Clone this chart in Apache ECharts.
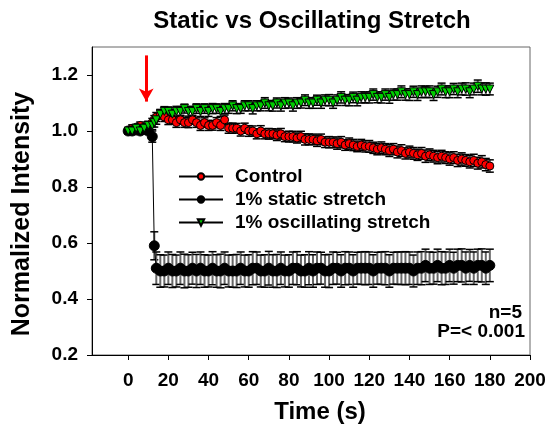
<!DOCTYPE html>
<html>
<head>
  <meta charset="utf-8" />
  <title>Static vs Oscillating Stretch</title>
  <script src="https://cdn.jsdelivr.net/npm/echarts@6/dist/echarts.min.js"></script>
  <style>
    html, body { margin: 0; padding: 0; background: #fff; }
  </style>
</head>
<body>
<div id="main" style="width: 546px;height:429px;"></div>
<script type="text/javascript">
  // time points (s)
  var time = [0, 2, 4, 6, 8, 10, 12, 13,
    14, 16, 18, 20, 22, 24, 26, 28, 30, 32, 34, 36, 38, 40, 42, 44, 46, 48, 50, 52, 54, 56, 58, 60,
    62, 64, 66, 68, 70, 72, 74, 76, 78, 80, 82, 84, 86, 88, 90, 92, 94, 96, 98, 100, 102, 104, 106, 108,
    110, 112, 114, 116, 118, 120, 122, 124, 126, 128, 130, 132, 134, 136, 138, 140, 142, 144, 146, 148,
    150, 152, 154, 156, 158, 160, 162, 164, 166, 168, 170, 172, 174, 176, 178, 180];

  var control = [
    1.00, 1.01, 1.00, 1.02, 1.01, 1.02, 1.03, 1.04, 1.05, 1.06,
    1.05, 1.04, 1.04, 1.03, 1.04, 1.03, 1.03, 1.04, 1.03, 1.02,
    1.03, 1.02, 1.02, 1.03, 1.02, 1.04, 1.01, 1.01, 1.01, 1.00,
    1.01, 1.00, 1.00, 0.99, 1.00, 0.99, 0.99, 0.99, 0.985, 0.99,
    0.98, 0.98, 0.98, 0.975, 0.98, 0.97, 0.97, 0.97, 0.965, 0.97,
    0.96, 0.96, 0.96, 0.955, 0.96, 0.95, 0.955, 0.95, 0.945, 0.95,
    0.945, 0.945, 0.94, 0.935, 0.94, 0.935, 0.93, 0.935, 0.925, 0.93,
    0.92, 0.925, 0.92, 0.915, 0.92, 0.91, 0.915, 0.91, 0.905, 0.91,
    0.905, 0.90, 0.905, 0.895, 0.90, 0.895, 0.89, 0.895, 0.885, 0.89,
    0.88, 0.875];
  var controlErr = [
    0.010, 0.012, 0.010, 0.012, 0.012, 0.014, 0.015, 0.015, 0.016, 0.016,
    0.016, 0.017, 0.016, 0.017, 0.016, 0.017, 0.018, 0.016, 0.017, 0.018,
    0.017, 0.018, 0.017, 0.018, 0.018, 0.017, 0.018, 0.018, 0.017, 0.018,
    0.018, 0.019, 0.018, 0.018, 0.019, 0.018, 0.019, 0.018, 0.019, 0.019,
    0.018, 0.019, 0.019, 0.018, 0.019, 0.020, 0.019, 0.019, 0.020, 0.019,
    0.019, 0.020, 0.019, 0.020, 0.020, 0.019, 0.020, 0.020, 0.019, 0.020,
    0.020, 0.021, 0.020, 0.020, 0.021, 0.020, 0.021, 0.020, 0.021, 0.021,
    0.020, 0.021, 0.021, 0.020, 0.021, 0.022, 0.021, 0.021, 0.022, 0.021,
    0.021, 0.022, 0.021, 0.022, 0.022, 0.021, 0.022, 0.022, 0.021, 0.022,
    0.022, 0.022];

  var staticStretch = [
    1.00, 1.00, 1.01, 1.00, 1.01, 1.00, 0.98, 0.59, 0.51, 0.50,
    0.50, 0.51, 0.50, 0.50, 0.51, 0.50, 0.50, 0.51, 0.50, 0.51,
    0.50, 0.50, 0.51, 0.50, 0.50, 0.51, 0.50, 0.50, 0.50, 0.51,
    0.50, 0.50, 0.51, 0.51, 0.50, 0.50, 0.51, 0.50, 0.50, 0.51,
    0.50, 0.50, 0.51, 0.51, 0.50, 0.50, 0.51, 0.50, 0.51, 0.51,
    0.50, 0.50, 0.51, 0.51, 0.50, 0.51, 0.51, 0.50, 0.51, 0.51,
    0.51, 0.51, 0.50, 0.51, 0.51, 0.51, 0.50, 0.51, 0.51, 0.51,
    0.51, 0.51, 0.50, 0.51, 0.51, 0.52, 0.51, 0.51, 0.52, 0.51,
    0.51, 0.52, 0.51, 0.52, 0.52, 0.51, 0.52, 0.51, 0.52, 0.52,
    0.51, 0.52];
  var staticErr = [
    0.010, 0.010, 0.012, 0.010, 0.012, 0.012, 0.020, 0.050, 0.058, 0.058,
    0.057, 0.058, 0.059, 0.057, 0.058, 0.060, 0.058, 0.057, 0.059, 0.058,
    0.058, 0.057, 0.059, 0.058, 0.060, 0.058, 0.057, 0.058, 0.059, 0.058,
    0.057, 0.058, 0.059, 0.058, 0.057, 0.058, 0.060, 0.058, 0.059, 0.058,
    0.057, 0.058, 0.058, 0.059, 0.057, 0.058, 0.059, 0.058, 0.058, 0.057,
    0.058, 0.059, 0.058, 0.057, 0.058, 0.059, 0.058, 0.058, 0.057, 0.058,
    0.059, 0.058, 0.058, 0.057, 0.058, 0.059, 0.058, 0.057, 0.058, 0.058,
    0.059, 0.058, 0.057, 0.058, 0.059, 0.058, 0.058, 0.057, 0.058, 0.059,
    0.058, 0.058, 0.057, 0.058, 0.059, 0.058, 0.057, 0.058, 0.058, 0.059,
    0.058, 0.058];

  var oscillating = [
    1.00, 1.00, 1.01, 1.00, 1.01, 1.02, 1.02, 1.03, 1.04, 1.06,
    1.07, 1.07, 1.06, 1.07, 1.07, 1.08, 1.07, 1.07, 1.08, 1.07,
    1.08, 1.07, 1.08, 1.08, 1.07, 1.08, 1.08, 1.09, 1.08, 1.08,
    1.09, 1.09, 1.08, 1.09, 1.09, 1.10, 1.09, 1.09, 1.10, 1.09,
    1.10, 1.10, 1.09, 1.10, 1.10, 1.11, 1.10, 1.10, 1.11, 1.10,
    1.11, 1.11, 1.10, 1.11, 1.12, 1.11, 1.11, 1.12, 1.11, 1.12,
    1.12, 1.12, 1.13, 1.12, 1.12, 1.13, 1.12, 1.13, 1.13, 1.14,
    1.13, 1.13, 1.14, 1.13, 1.14, 1.14, 1.14, 1.13, 1.14, 1.15,
    1.14, 1.14, 1.15, 1.14, 1.15, 1.15, 1.14, 1.15, 1.16, 1.15,
    1.15, 1.15];
  var oscillatingErr = [
    0.010, 0.012, 0.010, 0.012, 0.012, 0.014, 0.015, 0.016, 0.016, 0.017,
    0.017, 0.016, 0.017, 0.018, 0.017, 0.016, 0.017, 0.018, 0.017, 0.018,
    0.017, 0.018, 0.018, 0.017, 0.018, 0.018, 0.017, 0.018, 0.018, 0.017,
    0.018, 0.018, 0.019, 0.018, 0.018, 0.019, 0.018, 0.019, 0.018, 0.019,
    0.019, 0.018, 0.019, 0.019, 0.018, 0.019, 0.019, 0.019, 0.018, 0.019,
    0.019, 0.020, 0.019, 0.019, 0.020, 0.019, 0.020, 0.019, 0.020, 0.020,
    0.019, 0.020, 0.020, 0.019, 0.020, 0.020, 0.021, 0.020, 0.020, 0.021,
    0.020, 0.021, 0.020, 0.021, 0.021, 0.020, 0.021, 0.021, 0.020, 0.021,
    0.021, 0.021, 0.020, 0.021, 0.021, 0.022, 0.021, 0.021, 0.022, 0.021,
    0.022, 0.021];

  var seriesNames = ['Control', '1% static stretch', '1% oscillating stretch'];
  var xTicks = [0, 20, 40, 60, 80, 100, 120, 140, 160, 180, 200];
  var yTicks = [0.2, 0.4, 0.6, 0.8, 1.0, 1.2];
  // red arrow (time, intensity): from -> to
  var arrowFrom = [9, 1.27];
  var arrowTo = [9, 1.105];

  var FONT = 'Liberation Sans, Arial, sans-serif';

  function points(vals) {
    return time.map(function (t, i) { return [t, vals[i]]; });
  }
  function errPoints(vals, errs) {
    return time.map(function (t, i) { return [t, vals[i] - errs[i], vals[i] + errs[i]]; });
  }

  function renderErr(params, api) {
    var x = api.value(0);
    var lo = api.coord([x, api.value(1)]);
    var hi = api.coord([x, api.value(2)]);
    var w = 4;
    var st = { stroke: '#000', lineWidth: 1.5 };
    return {
      type: 'group',
      children: [
        { type: 'line', shape: { x1: lo[0], y1: lo[1], x2: hi[0], y2: hi[1] }, style: { stroke: '#666', lineWidth: 2 } },
        { type: 'line', shape: { x1: lo[0] - w, y1: lo[1], x2: lo[0] + w, y2: lo[1] }, style: st },
        { type: 'line', shape: { x1: hi[0] - w, y1: hi[1], x2: hi[0] + w, y2: hi[1] }, style: st }
      ]
    };
  }

  function errSeries(vals, errs) {
    return {
      type: 'custom',
      renderItem: renderErr,
      data: errPoints(vals, errs),
      encode: { x: 0, y: [1, 2] },
      silent: true,
      z: 1
    };
  }

  function lineSeries(name, vals, color, symbol, size, rotate) {
    return {
      name: name,
      type: 'line',
      data: points(vals),
      symbol: symbol,
      symbolSize: size,
      symbolRotate: rotate,
      showAllSymbol: true,
      lineStyle: { color: '#000', width: 1 },
      itemStyle: { color: color, borderColor: '#000', borderWidth: 1 },
      z: 2
    };
  }

  var chart = echarts.init(document.getElementById('main'));

  var ctrl = lineSeries(seriesNames[0], control, '#ff0000', 'circle', 8, 0);
  ctrl.markLine = {
    silent: true,
    symbol: ['none', 'arrow'],
    symbolSize: [11, 13],
    label: { show: false },
    lineStyle: { color: '#ff0000', width: 3, type: 'solid' },
    data: [[{ coord: arrowFrom }, { coord: arrowTo }]]
  };

  var option = {
    animation: false,
    textStyle: { fontFamily: FONT },
    grid: {
      left: 92, right: 16, top: 47, bottom: 74,
      show: true, borderColor: '#666', borderWidth: 1,
      outerBoundsMode: 'none'
    },
    legend: {
      data: seriesNames,
      orient: 'vertical',
      left: 173,
      top: 162,
      itemWidth: 44,
      itemHeight: 8,
      itemGap: 4,
      textStyle: { fontSize: 19, fontWeight: 'bold', color: '#000', fontFamily: FONT, padding: [0, 0, 0, 7] }
    },
    xAxis: {
      type: 'value',
      min: -18,
      max: 200,
      splitLine: { show: false },
      axisLine: { onZero: false, lineStyle: { color: '#000', width: 1 } },
      axisTick: { show: true, length: 5, lineStyle: { color: '#000' }, customValues: xTicks },
      axisLabel: {
        customValues: xTicks,
        fontSize: 19, fontWeight: 'bold', color: '#000', margin: 16, fontFamily: FONT
      }
    },
    yAxis: {
      type: 'value',
      min: 0.2,
      max: 1.3,
      splitLine: { show: false },
      axisLine: { show: true, onZero: false, lineStyle: { color: '#000', width: 1 } },
      axisTick: { show: true, length: 5, lineStyle: { color: '#000' }, customValues: yTicks },
      axisLabel: {
        customValues: yTicks,
        formatter: function (v) { return v.toFixed(1); },
        fontSize: 19, fontWeight: 'bold', color: '#000', margin: 14, fontFamily: FONT
      }
    },
    graphic: [
      { type: 'text', x: 312, y: 21, style: { text: 'Static vs Oscillating Stretch', font: 'bold 24px ' + FONT, fill: '#000', textAlign: 'center', textVerticalAlign: 'middle' } },
      { type: 'text', x: 320, y: 412, style: { text: 'Time (s)', font: 'bold 24px ' + FONT, fill: '#000', textAlign: 'center', textVerticalAlign: 'middle' } },
      { type: 'text', x: 22, y: 214, rotation: Math.PI / 2, style: { text: 'Normalized Intensity', font: 'bold 25px ' + FONT, fill: '#000', textAlign: 'center', textVerticalAlign: 'middle' } },
      { type: 'text', x: 522, y: 313, style: { text: 'n=5', font: 'bold 19px ' + FONT, fill: '#000', textAlign: 'right', textVerticalAlign: 'middle' } },
      { type: 'text', x: 525, y: 332, style: { text: 'P=< 0.001', font: 'bold 19px ' + FONT, fill: '#000', textAlign: 'right', textVerticalAlign: 'middle' } }
    ],
    series: [
      errSeries(control, controlErr),
      errSeries(staticStretch, staticErr),
      errSeries(oscillating, oscillatingErr),
      ctrl,
      lineSeries(seriesNames[1], staticStretch, '#000000', 'circle', 10, 0),
      lineSeries(seriesNames[2], oscillating, '#00cc00', 'triangle', 8, 180)
    ]
  };

  chart.setOption(option);
</script>
</body>
</html>
